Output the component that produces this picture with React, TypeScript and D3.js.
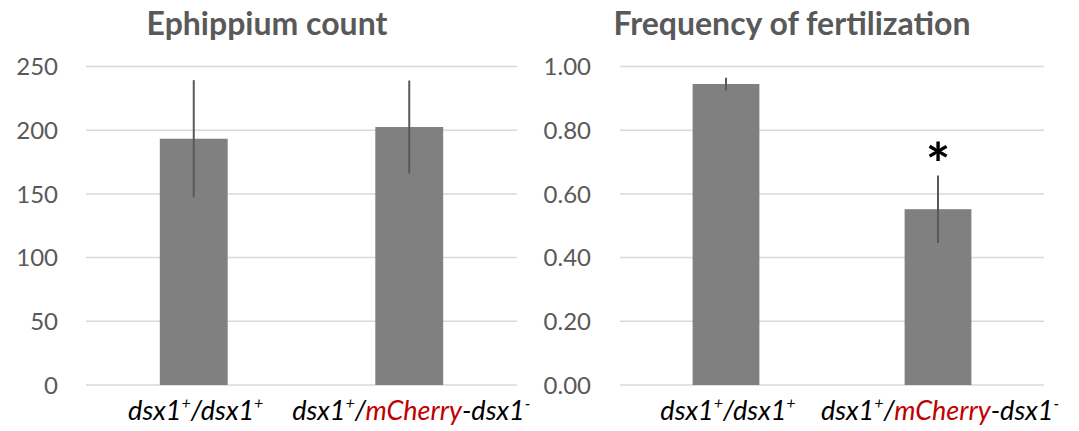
import React from "react";
import * as d3 from "d3";

const categories = ["wt", "mcherry"];
const ephippiumMean = [193.3, 202.5];
const ephippiumErr = [46, 36.5];
const fertMean = [0.945, 0.552];
const fertErr = [0.02, 0.106];
const ephippiumTicks = [0, 50, 100, 150, 200, 250];
const fertTicks = [0, 0.2, 0.4, 0.6, 0.8, 1.0];
const titles = ["Ephippium count", "Frequency of fertilization"];
const significant = [false, true];

const W = 1079;
const H = 431;
const y0 = 385;
const y1 = 66.5;
const FONT = "Lato, 'Open Sans', sans-serif";
const TEXT = "#595959";

function Label({ x, y, kind }: { x: number; y: number; kind: string }) {
  const fs = 27;
  const sup = { fontSize: 16, dy: -11 } as const;
  if (kind === "wt") {
    return (
      <text x={x} y={y} textAnchor="middle" fontFamily={FONT} fontStyle="italic" fontSize={fs} fill="#000">
        dsx1<tspan fontSize={sup.fontSize} dy={sup.dy}>+</tspan>
        <tspan dy={-sup.dy}>/dsx1</tspan>
        <tspan fontSize={sup.fontSize} dy={sup.dy}>+</tspan>
      </text>
    );
  }
  return (
    <text x={x} y={y} textAnchor="middle" fontFamily={FONT} fontStyle="italic" fontSize={fs} fill="#000">
      dsx1<tspan fontSize={sup.fontSize} dy={sup.dy}>+</tspan>
      <tspan dy={-sup.dy}>/</tspan>
      <tspan fill="#c00000">mCherry</tspan>
      <tspan>-dsx1</tspan>
      <tspan fontSize={sup.fontSize} dy={sup.dy}>-</tspan>
    </text>
  );
}

function Panel({
  x0,
  x1,
  labelRight,
  titleX,
  title,
  means,
  errs,
  ticks,
  max,
  fmt,
  stars,
}: {
  x0: number;
  x1: number;
  labelRight: number;
  titleX: number;
  title: string;
  means: number[];
  errs: number[];
  ticks: number[];
  max: number;
  fmt: (v: number) => string;
  stars: boolean[];
}) {
  const x = d3.scaleBand<string>().domain(categories).range([x0, x1]).paddingInner(0.685).paddingOuter(0.3425);
  const y = d3.scaleLinear().domain([0, max]).range([y0, y1]);
  return (
    <g>
      <text x={titleX} y={35} textAnchor="middle" fontFamily={FONT} fontWeight="bold" fontSize={32} fill={TEXT}>
        {title}
      </text>
      {ticks.map((t) => (
        <g key={t}>
          <line x1={x0} x2={x1} y1={y(t)} y2={y(t)} stroke="#d9d9d9" strokeWidth={1.5} />
          <text x={labelRight} y={y(t)} dy="0.36em" textAnchor="end" fontFamily={FONT} fontSize={24} fill={TEXT}>
            {fmt(t)}
          </text>
        </g>
      ))}
      {categories.map((c, i) => {
        const cx = (x(c) as number) + x.bandwidth() / 2;
        return (
          <g key={c}>
            <rect x={x(c)} y={y(means[i])} width={x.bandwidth()} height={y0 - y(means[i])} fill="#808080" />
            <line
              x1={cx}
              x2={cx}
              y1={y(means[i] + errs[i])}
              y2={y(means[i] - errs[i])}
              stroke="#595959"
              strokeWidth={2}
            />
            {stars[i] && (
              <text x={cx} y={y(means[i] + errs[i]) + 10} textAnchor="middle" fontFamily={FONT} fontWeight="bold" fontSize={58} fill="#000">
                *
              </text>
            )}
            <Label x={cx + 2} y={420} kind={c} />
          </g>
        );
      })}
    </g>
  );
}

export default function App() {
  return (
    <div style={{ position: "absolute", left: 0, top: 0 }}>
      <svg width={W} height={H} style={{ display: "block", background: "#fff" }}>
        <Panel
          x0={86}
          x1={517}
          labelRight={58}
          titleX={267}
          title={titles[0]}
          means={ephippiumMean}
          errs={ephippiumErr}
          ticks={ephippiumTicks}
          max={250}
          fmt={(v) => String(v)}
          stars={significant.map(() => false)}
        />
        <Panel
          x0={620}
          x1={1044}
          labelRight={591}
          titleX={792}
          title={titles[1]}
          means={fertMean}
          errs={fertErr}
          ticks={fertTicks}
          max={1}
          fmt={(v) => v.toFixed(2)}
          stars={significant}
        />
      </svg>
    </div>
  );
}
